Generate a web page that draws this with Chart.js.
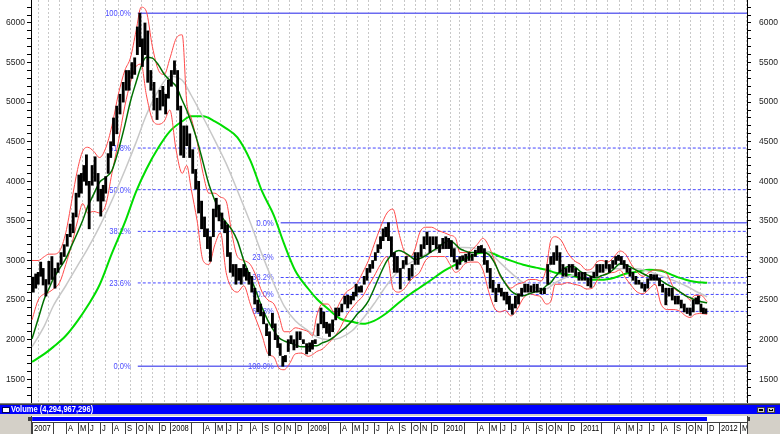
<!DOCTYPE html>
<html>
<head>
<meta charset="utf-8">
<script src="https://cdn.jsdelivr.net/npm/chart.js@4.4.1/dist/chart.umd.min.js"></script>
<style>
  html, body { margin: 0; padding: 0; background: #fff; }
  #wrap { width: 780px; height: 434px; }
</style>
</head>
<body>
<div id="wrap"><canvas id="chart" width="780" height="434"></canvas></div>
<script>
const FONT = '"Liberation Sans", Arial, sans-serif';
const NARROW = 0.84; // squeeze canvas text to mimic the narrow bitmap font

// trading days per month, Jan 2007 .. Mar 2012 (x axis is in trading days)
const tradingDays = [
  22, 16, 22, 21, 18, 21, 22, 23, 20, 18, 22, 20,
  22, 16, 21, 21, 20, 20, 23, 21, 21, 18, 20, 23,
  15, 20, 22, 21, 19, 20, 23, 21, 21, 16, 21, 23,
  20, 15, 23, 21, 20, 19, 22, 22, 19, 16, 22, 23,
  21, 16, 23, 20, 21, 21, 21, 23, 21, 16, 22, 22,
  16, 21, 22
];
const firstYear = 2007;
const monthLetters = ["J", "F", "M", "A", "M", "J", "J", "A", "S", "O", "N", "D"];
const priceTicks = [1500, 2000, 2500, 3000, 3500, 4000, 4500, 5000, 5500, 6000];
const volumeTitle = "Volume (4,294,967,296)";

// weekly [low, high], grouped by month
const bars2007 = [
  [[2600, 2790], [2650, 2830], [2700, 2850], [2800, 2980], [2690, 2900]],
  [[2550, 2760], [2700, 2990], [2760, 3050]],
  [[2650, 2900], [2850, 2970], [2950, 3100], [3050, 3200]],
  [[3180, 3330], [3300, 3460], [3350, 3600], [3550, 3850]],
  [[3800, 4080], [3850, 4100], [4000, 4200], [3950, 4335]],
  [[3400, 4000], [3950, 4200], [4000, 4310], [3750, 4100]],
  [[3560, 3900], [3750, 3950], [3850, 4060], [4100, 4350], [4300, 4500]],
  [[4450, 4800], [4600, 4950], [4850, 5100], [5000, 5250]],
  [[5150, 5400], [5150, 5400], [5300, 5500], [5350, 5560]],
  [[5600, 5950], [5700, 6124], [5450, 5800], [5600, 6000]],
  [[5250, 5900], [5150, 5400], [4900, 5250], [4780, 5050]],
  [[4900, 5150], [4950, 5200], [4850, 5100], [5050, 5280]]
];
const bars2008 = [
  [[5200, 5400], [5350, 5522], [4900, 5400], [4330, 4950]],
  [[4300, 4700], [4450, 4700], [4300, 4600]],
  [[4100, 4400], [3900, 4150], [3600, 4000], [3400, 3750]],
  [[3300, 3550], [3150, 3400], [2990, 3300], [3300, 3650]],
  [[3550, 3786], [3500, 3700], [3400, 3600], [3350, 3500]],
  [[3050, 3450], [2850, 3100], [2800, 2950], [2700, 2950]],
  [[2750, 2900], [2700, 2900], [2800, 2950], [2750, 2900], [2700, 2850]],
  [[2600, 2800], [2450, 2650], [2350, 2500], [2300, 2450]],
  [[2200, 2350], [2050, 2200], [1800, 2100], [2150, 2333]],
  [[2000, 2200], [1900, 2050], [1800, 1950], [1664, 1790]],
  [[1720, 1800], [1850, 2000], [1950, 2050], [1870, 2000]],
  [[1900, 2100], [2000, 2100], [1950, 2000], [1820, 1950]]
];
const bars2009 = [
  [[1850, 1960], [1880, 1990], [1950, 2000]],
  [[2050, 2200], [2200, 2400], [2150, 2350], [2080, 2220]],
  [[2040, 2200], [2100, 2250], [2250, 2400], [2300, 2400]],
  [[2350, 2450], [2450, 2550], [2400, 2560], [2450, 2550]],
  [[2500, 2600], [2550, 2700], [2600, 2670], [2600, 2680]],
  [[2700, 2800], [2750, 2900], [2850, 2950], [2900, 3000]],
  [[3000, 3100], [3100, 3200], [3150, 3300], [3250, 3400], [3300, 3420]],
  [[3250, 3478], [3050, 3300], [2850, 3100], [2850, 3050]],
  [[2640, 2900], [2900, 3000], [2950, 3050], [2750, 2900]],
  [[2800, 2950], [2950, 3100], [2950, 3100]],
  [[3050, 3200], [3150, 3300], [3200, 3360], [3100, 3300]],
  [[3200, 3300], [3150, 3300], [3100, 3200], [3150, 3280]]
];
const bars2010 = [
  [[3150, 3300], [3150, 3280], [3050, 3250], [2980, 3150]],
  [[2890, 3010], [2950, 3050], [3000, 3060]],
  [[2980, 3080], [3000, 3100], [3000, 3080], [3050, 3130]],
  [[3100, 3180], [3100, 3190], [2950, 3150], [2850, 3000]],
  [[2650, 2900], [2600, 2750], [2480, 2650], [2600, 2700]],
  [[2550, 2650], [2500, 2600], [2450, 2600], [2380, 2550]],
  [[2320, 2450], [2400, 2550], [2450, 2580], [2550, 2650]],
  [[2600, 2700], [2600, 2700], [2600, 2680], [2600, 2700]],
  [[2600, 2700], [2580, 2650], [2580, 2650]],
  [[2700, 2950], [2950, 3050], [2950, 3100]],
  [[3000, 3186], [2850, 3100], [2800, 2950], [2800, 2900]],
  [[2850, 2950], [2850, 2950], [2800, 2900], [2750, 2850]]
];
const bars2011 = [
  [[2750, 2850], [2750, 2850], [2680, 2780], [2660, 2800]],
  [[2780, 2850], [2800, 2950], [2850, 2950]],
  [[2850, 2950], [2900, 3000], [2850, 2950], [2900, 3000]],
  [[2950, 3050], [3000, 3067], [2950, 3050], [2900, 3000]],
  [[2850, 2950], [2800, 2900], [2750, 2850], [2700, 2800]],
  [[2700, 2750], [2650, 2720], [2610, 2700], [2650, 2770]],
  [[2750, 2826], [2750, 2820], [2750, 2820], [2680, 2780]],
  [[2600, 2700], [2440, 2650], [2550, 2650], [2500, 2650]],
  [[2450, 2550], [2450, 2550], [2400, 2500], [2350, 2450]],
  [[2330, 2400], [2307, 2400], [2350, 2500]],
  [[2450, 2528], [2450, 2550], [2350, 2450], [2330, 2400], [2330, 2390]]
];

// long moving average (bright green), value at each month start Jan 2007 .. Dec 2011
const ma200 = [
  1719, 1820, 1909, 2049, 2238, 2428, 2690, 3090, 3480, 3870, 4150, 4429,
  4631, 4758, 4821, 4821, 4758, 4669, 4555, 4264, 3872, 3568, 3213, 2871,
  2643, 2517, 2390, 2264, 2226, 2200, 2238, 2340, 2466, 2580, 2656, 2757,
  2871, 2947, 3011, 3087, 3100, 3049, 2998, 2947, 2910, 2884, 2846, 2821,
  2783, 2757, 2757, 2783, 2833, 2859, 2884, 2871, 2808, 2757, 2732, 2719
];
// medium moving average (grey), month starts
const ma100 = [
  1909, 2175, 2428, 2681, 2935, 3150, 3428, 3758, 4137, 4492, 4834, 5150,
  5328, 5277, 5087, 4809, 4517, 4226, 3884, 3479, 3074, 2707, 2428, 2238,
  2112, 2036, 1998, 2023, 2112, 2264, 2454, 2694, 2871, 2973, 3036, 3112,
  3150, 3163, 3163, 3150, 3100, 2973, 2846, 2719, 2656, 2643, 2719, 2795,
  2833, 2859, 2871, 2897, 2897, 2897, 2859, 2808, 2745, 2681, 2618, 2542
];
// short moving average (dark green), month start and mid-month
const ma50 = [
  2010, 2264, 2517, 2643, 2770, 2897, 3023, 3188, 3353, 3504, 3682, 3834, 3986, 4049, 4137, 4391, 4707, 5011, 5252, 5454, 5568, 5556, 5467, 5353,
  5277, 5201, 5024, 4897, 4745, 4517, 4239, 3960, 3758, 3580, 3479, 3390, 3251, 2998, 2795, 2605, 2403, 2238, 2112, 2023, 1985, 1960, 1934, 1909,
  1909, 1922, 1922, 1960, 1985, 2036, 2099, 2162, 2238, 2327, 2390, 2491, 2643, 2833, 2998, 3087, 3125, 3100, 3049, 3011, 3023, 3061, 3112, 3163,
  3226, 3251, 3201, 3150, 3125, 3100, 3100, 3100, 3074, 2973, 2821, 2707, 2618, 2567, 2554, 2580, 2605, 2618, 2681, 2719, 2795, 2871, 2922, 2922,
  2859, 2821, 2795, 2783, 2808, 2833, 2897, 2960, 2947, 2910, 2871, 2833, 2795, 2770, 2745, 2694, 2656, 2605, 2554, 2529, 2504, 2479, 2466
];
// envelope bands (red), month start and mid-month
const bandUpper = [
  3000, 3000, 3050, 3080, 3080, 3120, 3350, 3750, 4150, 4380, 4430, 4380, 4300, 4420, 4700, 5100, 5400, 5560, 5900, 6200, 6150, 5700, 5400, 5350,
  5550, 5800, 5850, 5000, 4800, 4500, 4100, 3850, 3850, 3800, 3750, 3350, 3050, 3000, 2950, 2800, 2600, 2500, 2450, 2300, 2100, 2100, 2150, 2130,
  2100, 2050, 2300, 2450, 2450, 2350, 2480, 2600, 2650, 2720, 2850, 3000, 3200, 3420, 3600, 3650, 3350, 3100, 3050, 3150, 3350, 3420, 3420, 3380,
  3350, 3320, 3280, 3100, 3100, 3120, 3200, 3280, 3180, 3000, 2800, 2720, 2650, 2700, 2720, 2760, 2760, 2740, 2900, 3250, 3300, 3250, 3100, 3000,
  2950, 2880, 2900, 2980, 3000, 2980, 3050, 3120, 3080, 2950, 2850, 2800, 2850, 2880, 2880, 2820, 2650, 2600, 2560, 2500, 2560, 2560, 2480
];
const bandLower = [
  2250, 2500, 2580, 2600, 2640, 2720, 2950, 3200, 3500, 3720, 3600, 3620, 3600, 3700, 4100, 4500, 4950, 5250, 5450, 5480, 5100, 4780, 4720, 4760,
  4900, 4400, 4100, 4200, 3900, 3500, 3000, 2950, 3200, 3350, 2850, 2650, 2600, 2680, 2450, 2250, 2050, 1820, 1780, 1640, 1620, 1700, 1820, 1830,
  1790, 1810, 1850, 1880, 1950, 2030, 2150, 2300, 2400, 2480, 2550, 2680, 2800, 2950, 3050, 2650, 2600, 2650, 2750, 2800, 2850, 3000, 3050, 3050,
  3050, 2950, 2850, 2880, 2950, 2980, 2980, 2880, 2600, 2400, 2350, 2370, 2300, 2380, 2520, 2580, 2560, 2540, 2450, 2480, 2700, 2700, 2720, 2700,
  2680, 2640, 2650, 2740, 2800, 2840, 2850, 2880, 2780, 2680, 2600, 2580, 2640, 2700, 2450, 2380, 2380, 2360, 2300, 2280, 2320, 2330, 2320
];

// fibonacci swings: Oct 2007 top -> Oct 2008 bottom, Oct 2008 bottom -> Aug 2009 top
const fibRatios = [0, 0.236, 0.382, 0.5, 0.618, 1];
const fibFall = { high: 6124, low: 1664, fromDay: 188 };
const fibRise = { high: 3478, low: 1664, fromDay: 442 };

const X_MIN = -1.8, X_MAX = 1270.9;
const Y_MIN = 1200, Y_MAX = 6290;

// month start positions in trading days
const monthStart = [];
let acc = 0;
tradingDays.forEach((d) => { monthStart.push(acc); acc += d; });

const priceBars = [];
[bars2007, bars2008, bars2009, bars2010, bars2011].flat().forEach((weeks, m) => {
  const step = tradingDays[m] / weeks.length;
  weeks.forEach((range, j) => {
    priceBars.push({ x: monthStart[m] + (j + 0.5) * step, y: range });
  });
});

function monthPoints(values) {
  return values.map((v, i) => ({ x: monthStart[i], y: v }));
}
function halfMonthPoints(values) {
  return values.map((v, i) => {
    const m = Math.floor(i / 2);
    return { x: monthStart[m] + (i % 2) * tradingDays[m] / 2, y: v };
  });
}

function fibDatasets(swing, fromTop) {
  return fibRatios.map((r) => {
    const level = fromTop
      ? swing.high - r * (swing.high - swing.low)
      : swing.low + r * (swing.high - swing.low);
    const solid = r === 0 || r === 1;
    return {
      type: "line",
      data: [{ x: swing.fromDay, y: level }, { x: X_MAX, y: level }],
      borderColor: solid ? "#6a6af0" : "#4646ff",
      borderWidth: solid ? 1.5 : 1,
      borderDash: solid ? [] : [3, 2],
      pointRadius: 0,
      order: 6,
      fibLabel: (r * 100).toFixed(1) + "%",
    };
  });
}

const lineBase = { type: "line", pointRadius: 0, fill: false, cubicInterpolationMode: "monotone" };

const datasets = [
  { type: "bar", data: priceBars, backgroundColor: "#000", borderWidth: 0, barThickness: 2.2, order: 0 },
  { ...lineBase, data: halfMonthPoints(ma50), borderColor: "#007000", borderWidth: 1.5, order: 1 },
  { ...lineBase, data: halfMonthPoints(bandUpper), borderColor: "#ff4a4a", borderWidth: 1, order: 2 },
  { ...lineBase, data: halfMonthPoints(bandLower), borderColor: "#ff4a4a", borderWidth: 1, order: 2 },
  { ...lineBase, data: monthPoints(ma100), borderColor: "#c8c8c8", borderWidth: 1.5, order: 3 },
  { ...lineBase, data: monthPoints(ma200), borderColor: "#00dd00", borderWidth: 2, order: 4 },
  ...fibDatasets(fibFall, false),
  ...fibDatasets(fibRise, true),
];

function narrowText(ctx, text, x, y, align) {
  ctx.save();
  ctx.translate(x, y);
  ctx.scale(NARROW, 1);
  ctx.textAlign = align || "left";
  ctx.fillText(text, 0, 0);
  ctx.restore();
}

// fib labels sit left of where each level starts
const fibLabels = {
  id: "fibLabels",
  beforeDatasetsDraw(chart) {
    const ctx = chart.ctx;
    ctx.save();
    ctx.font = "9px " + FONT;
    ctx.fillStyle = "#4b4bff";
    ctx.textBaseline = "middle";
    chart.data.datasets.forEach((ds, i) => {
      if (!ds.fibLabel) return;
      const pt = chart.getDatasetMeta(i).data[0];
      narrowText(ctx, ds.fibLabel, pt.x - 7, pt.y + 0.5, "right");
    });
    ctx.restore();
  },
};

// volume pane title, volume strip and date row under the price pane
const volumePane = {
  id: "volumePane",
  afterDraw(chart) {
    const { ctx, chartArea: area } = chart;
    const xs = chart.scales.x;
    const W = chart.width, H = chart.height;
    const top = Math.round(area.bottom);
    const L = Math.round(area.left), R = Math.round(area.right);
    ctx.save();
    ctx.fillStyle = "#d4d0c8";
    ctx.fillRect(0, top, W, H - top);
    ctx.fillStyle = "#808080";
    ctx.fillRect(0, top, W, 1);
    ctx.fillStyle = "#404040";
    ctx.fillRect(0, top + 1, W, 1);

    // title bar
    ctx.fillStyle = "#0000ff";
    ctx.fillRect(0, top + 2, W, 9);
    ctx.fillStyle = "#fff";
    ctx.fillRect(2, top + 4, 8, 6);
    ctx.strokeStyle = "#000060";
    ctx.lineWidth = 1;
    ctx.strokeRect(2.5, top + 4.5, 7, 5);
    ctx.font = "bold 9px " + FONT;
    ctx.textBaseline = "middle";
    ctx.fillStyle = "#fff";
    narrowText(ctx, volumeTitle, 11, top + 7);
    [757, 767].forEach((bx, k) => {
      ctx.fillStyle = "#d4d0c8";
      ctx.fillRect(bx, top + 4, 8, 6);
      ctx.strokeStyle = "#404040";
      ctx.strokeRect(bx + 0.5, top + 4.5, 7, 5);
      ctx.fillStyle = "#000";
      if (k === 0) ctx.fillRect(bx + 2, top + 6, 4, 2);
      else { ctx.fillRect(bx + 2, top + 6, 1, 2); ctx.fillRect(bx + 5, top + 6, 1, 2); ctx.fillRect(bx + 3, top + 7, 2, 1); }
    });

    // volume strip
    ctx.fillStyle = "#fff";
    ctx.fillRect(L, top + 13, R - L, 6);
    const x0 = xs.getPixelForValue(priceBars[0].x - 2);
    const x1 = xs.getPixelForValue(priceBars[priceBars.length - 1].x + 2);
    ctx.fillStyle = "#0000ff";
    ctx.fillRect(x0, top + 14, x1 - x0, 4);
    ctx.fillStyle = "#404040";
    ctx.fillRect(L - 3, top + 14, 3, 4);
    ctx.fillRect(R, top + 14, 3, 4);

    // date row
    ctx.fillStyle = "#fff";
    ctx.fillRect(L, top + 20, R - L, H - top - 20);
    ctx.fillStyle = "#404040";
    ctx.fillRect(L, top + 19, R - L, 1);
    ctx.fillRect(L, top + 13, 1, H - top - 13);
    ctx.fillRect(R, top + 13, 1, H - top - 13);

    ctx.beginPath();
    ctx.rect(L, top + 19, R - L, H - top - 19);
    ctx.clip();
    ctx.font = "9px " + FONT;
    ctx.textBaseline = "middle";
    monthStart.forEach((d, m) => {
      const mm = m % 12;
      const year = firstYear + Math.floor(m / 12);
      if (mm === 1) return;
      const px = Math.round(xs.getPixelForValue(d));
      if (px >= R) return;
      ctx.fillStyle = "#404040";
      ctx.fillRect(px, top + 20, 1, H - top - 20);
      let label = mm === 0 ? String(year) : monthLetters[mm];
      if (mm === 2 && year < 2012) label = "";
      ctx.fillStyle = "#000";
      narrowText(ctx, label, px + 2, top + 26);
    });
    ctx.restore();
  },
};

function priceAxis(position, width, padding) {
  return {
    type: "linear",
    position,
    min: Y_MIN,
    max: Y_MAX,
    grid: { drawOnChartArea: false, drawTicks: true, tickLength: 4, color: "#000", tickColor: "#000" },
    border: { display: true, color: "#000" },
    ticks: {
      autoSkip: false,
      padding,
      color: "#222",
      font: { family: FONT, size: 8.5 },
      callback: (v) => (priceTicks.includes(v) ? String(v) : ""),
    },
    afterBuildTicks: (s) => {
      const t = [];
      for (let v = 1300; v <= 6200; v += 100) t.push({ value: v });
      s.ticks = t;
    },
    afterFit: (s) => { s.width = width; s.paddingTop = 0; s.paddingBottom = 0; },
  };
}

new Chart(document.getElementById("chart"), {
  type: "line",
  data: { datasets },
  options: {
    responsive: false,
    animation: false,
    events: [],
    devicePixelRatio: 1,
    layout: { padding: 0 },
    plugins: { legend: { display: false }, tooltip: { enabled: false } },
    scales: {
      x: {
        type: "linear",
        min: X_MIN,
        max: X_MAX,
        offset: false,
        grid: { color: "#c8c8c8", lineWidth: 1, drawTicks: false },
        border: { display: false, dash: [2, 2] },
        ticks: { display: false },
        afterBuildTicks: (s) => { s.ticks = monthStart.map((v) => ({ value: v })); },
        afterFit: (s) => { s.height = 31; s.paddingLeft = 0; s.paddingRight = 0; },
      },
      y: priceAxis("left", 31, 2),
      y2: priceAxis("right", 33, 8),
    },
  },
  plugins: [fibLabels, volumePane],
});
</script>
</body>
</html>
